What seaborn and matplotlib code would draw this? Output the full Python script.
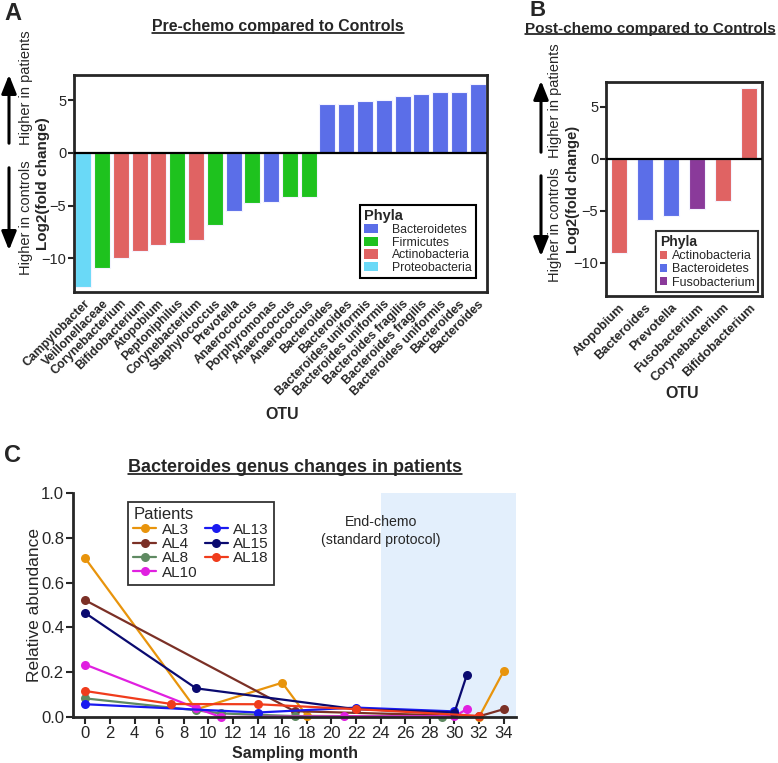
import pandas as pd
import matplotlib
matplotlib.use('Agg')
import matplotlib.pyplot as plt
from matplotlib.lines import Line2D
from matplotlib.patches import Patch, FancyArrowPatch
import seaborn as sns

sns.set_style('ticks')
plt.rcParams['font.family'] = ['Liberation Sans', 'DejaVu Sans']

# ---- data ----
pre_otu = ['Campylobacter', 'Veillonellaceae', 'Corynebacterium', 'Bifidobacterium',
           'Atopobium', 'Peptoniphilus', 'Corynebacterium', 'Staphylococcus',
           'Prevotella', 'Anaerococcus', 'Porphyromonas', 'Anaerococcus', 'Anaerococcus',
           'Bacteroides', 'Bacteroides', 'Bacteroides uniformis', 'Bacteroides uniformis',
           'Bacteroides fragilis', 'Bacteroides fragilis', 'Bacteroides uniformis',
           'Bacteroides', 'Bacteroides']
pre_lfc = [-12.7, -10.9, -10.0, -9.27, -8.7, -8.54, -8.22, -6.86, -5.52, -4.79,
           -4.70, -4.22, -4.16, 4.65, 4.68, 4.97, 5.03, 5.41, 5.63, 5.76, 5.82, 6.52]
pre_phyla = ['Proteobacteria', 'Firmicutes', 'Actinobacteria', 'Actinobacteria',
             'Actinobacteria', 'Firmicutes', 'Actinobacteria', 'Firmicutes',
             'Bacteroidetes', 'Firmicutes', 'Bacteroidetes', 'Firmicutes', 'Firmicutes'] + ['Bacteroidetes'] * 9

post_otu = ['Atopobium', 'Bacteroides', 'Prevotella', 'Fusobacterium',
            'Corynebacterium', 'Bifidobacterium']
post_lfc = [-9.1, -5.9, -5.5, -4.85, -4.05, 6.78]
post_phyla = ['Actinobacteria', 'Bacteroidetes', 'Bacteroidetes', 'Fusobacterium',
              'Actinobacteria', 'Actinobacteria']

patients = ['AL3', 'AL4', 'AL8', 'AL10', 'AL13', 'AL15', 'AL18']
months = {
    'AL3': [0, 9, 16, 18, 32, 34],
    'AL4': [0, 17, 32, 34],
    'AL8': [0, 9, 11, 17, 29],
    'AL10': [0, 9, 11, 21, 30, 31],
    'AL13': [0, 14, 22, 30],
    'AL15': [0, 9, 22, 30, 31],
    'AL18': [0, 7, 14, 22, 32],
}
abund = {
    'AL3': [0.708, 0.034, 0.153, 0.005, 0.0, 0.205],
    'AL4': [0.521, 0.026, 0.003, 0.035],
    'AL8': [0.083, 0.03, 0.016, 0.004, 0.002],
    'AL10': [0.234, 0.04, 0.0, 0.003, 0.003, 0.035],
    'AL13': [0.057, 0.02, 0.042, 0.025],
    'AL15': [0.464, 0.128, 0.035, 0.02, 0.187],
    'AL18': [0.116, 0.058, 0.057, 0.035, 0.005],
}

phyla_colors = {'Bacteroidetes': '#5b6ee8', 'Firmicutes': '#1ec21e',
                'Actinobacteria': '#e06363', 'Proteobacteria': '#6ad9f7',
                'Fusobacterium': '#8a3a9a'}
patient_colors = {'AL3': '#e8940c', 'AL4': '#7b3026', 'AL8': '#5f8a62', 'AL10': '#e020e0',
                  'AL13': '#1a1af0', 'AL15': '#0a0a70', 'AL18': '#f03c1c'}

W, H = 778, 763
fig = plt.figure(figsize=(W / 100, H / 100), dpi=100)


def fx(px):
    return px / W


def fy(py):
    return 1 - py / H


def arrow(x, y0, y1):
    fig.add_artist(FancyArrowPatch((fx(x), fy(y0)), (fx(x), fy(y1)), transform=fig.transFigure,
                                   arrowstyle='-|>,head_length=0.8,head_width=0.32',
                                   mutation_scale=14, lw=2.2, color='black'))


def bar_panel(ax, names, vals, phyla, order, width, xrot_size):
    n = len(names)
    sns.barplot(x=list(range(n)), y=vals, hue=phyla, hue_order=order,
                palette=phyla_colors, dodge=False, width=width, saturation=1,
                edgecolor='#f4f4ff', linewidth=0.8, legend=False, ax=ax)
    ax.axhline(0, color='black', lw=1.6, zorder=5)
    ax.set_xlim(-0.5, n - 0.5)
    ax.set_ylim(-13.2, 7.4)
    ax.set_yticks([-10, -5, 0, 5])
    ax.set_xticks(range(n))
    ax.set_xticklabels(names, rotation=45, ha='right', va='top', rotation_mode='anchor',
                       fontweight='bold', fontsize=xrot_size)
    ax.tick_params(axis='x', length=0, pad=4)
    ax.tick_params(axis='y', labelsize=10.5, width=1.5, length=4, pad=1.5)
    for s in ax.spines.values():
        s.set_linewidth(2)
        s.set_visible(True)
    ax.set_ylabel('Log2(fold change)', fontweight='bold', fontsize=11)
    ax.set_xlabel('OTU', fontweight='bold', fontsize=11.5)
    ax.xaxis.label.set_va('center')
    ax.yaxis.label.set_va('center')


# ---- Panel A ----
axA = fig.add_axes([fx(74), fy(292), fx(487 - 74), (292 - 75) / H])
bar_panel(axA, pre_otu, pre_lfc, pre_phyla,
          ['Bacteroidetes', 'Firmicutes', 'Actinobacteria', 'Proteobacteria'], 0.85, 8.8)
axA.yaxis.set_label_coords(-0.074, 0.5)
axA.xaxis.set_label_coords(0.504, -0.565)
hA = [Patch(facecolor=phyla_colors[p], edgecolor='none') for p in
      ['Bacteroidetes', 'Firmicutes', 'Actinobacteria', 'Proteobacteria']]
legA = axA.legend(hA, ['Bacteroidetes', 'Firmicutes', 'Actinobacteria', 'Proteobacteria'],
                  title='Phyla', loc='upper left', bbox_to_anchor=(fx(360), fy(205)),
                  bbox_transform=fig.transFigure, borderaxespad=0, fontsize=8.8,
                  handlelength=1.1, handleheight=0.8, handletextpad=1.2,
                  labelspacing=0.05, fancybox=False, edgecolor='black', framealpha=1,
                  alignment='left', borderpad=0.35)
legA.get_title().set_fontweight('bold')
legA.get_title().set_fontsize(10.5)
legA.get_frame().set_linewidth(1.5)

# ---- Panel B ----
axB = fig.add_axes([fx(606), fy(296), fx(762 - 606), (296 - 82) / H])
bar_panel(axB, post_otu, post_lfc, post_phyla,
          ['Actinobacteria', 'Bacteroidetes', 'Fusobacterium'], 0.62, 9.2)
axB.yaxis.label.set_fontsize(10.5)
axB.yaxis.set_label_coords(-0.21, 0.5)
axB.xaxis.set_label_coords(0.487, -0.455)
hB = [Patch(facecolor=phyla_colors[p], edgecolor='none') for p in
      ['Actinobacteria', 'Bacteroidetes', 'Fusobacterium']]
legB = axB.legend(hB, ['Actinobacteria', 'Bacteroidetes', 'Fusobacterium'],
                  title='Phyla', loc='upper left', bbox_to_anchor=(fx(656), fy(231)),
                  bbox_transform=fig.transFigure, borderaxespad=0, fontsize=9,
                  handlelength=0.6, handleheight=0.6, handletextpad=0.35,
                  labelspacing=0.1, fancybox=False, edgecolor='#333333', framealpha=1,
                  alignment='left', borderpad=0.3)
legB.get_title().set_fontweight('bold')
legB.get_title().set_fontsize(10)
legB.get_frame().set_linewidth(1.5)

# ---- Panel C ----
axC = fig.add_axes([fx(73), fy(717), fx(516 - 73), (717 - 493) / H])
axC.axvspan(24, 35, color='#e3effc', zorder=0, lw=0)
rows = []
for p in patients:
    for m, a in zip(months[p], abund[p]):
        rows.append({'patient': p, 'month': m, 'abund': a})
df = pd.DataFrame(rows)
sns.lineplot(data=df, x='month', y='abund', hue='patient', hue_order=patients,
             palette=patient_colors, marker='o', markersize=6.5, markeredgewidth=0,
             linewidth=1.6, estimator=None, legend=False, clip_on=False, ax=axC)
axC.set_xlim(-1, 35)
axC.set_ylim(0, 1)
axC.set_xticks(range(0, 35, 2))
axC.set_yticks([0, 0.2, 0.4, 0.6, 0.8, 1.0])
axC.set_yticklabels(['0.0', '0.2', '0.4', '0.6', '0.8', '1.0'])
axC.tick_params(labelsize=12, width=1.5, length=5, pad=1.5)
sns.despine(ax=axC)
for s in ['left', 'bottom']:
    axC.spines[s].set_linewidth(2)
axC.set_xlabel('Sampling month', fontweight='bold', fontsize=11.5)
axC.set_ylabel('Relative abundance', fontsize=12.5)
axC.xaxis.label.set_va('center')
axC.yaxis.label.set_va('center')
axC.xaxis.set_label_coords(0.502, -0.161)
axC.yaxis.set_label_coords(-0.086, 0.5)
axC.text(24, 0.83, 'End-chemo\n(standard protocol)', ha='center', va='center',
         fontsize=10.2, linespacing=1.3)
hC = [Line2D([], [], color=patient_colors[p], marker='o', markersize=6.5,
             markeredgewidth=0, lw=1.6) for p in patients]
legC = axC.legend(hC, patients, title='Patients', ncol=2, loc='upper left',
                  bbox_to_anchor=(fx(128), fy(502)), bbox_transform=fig.transFigure,
                  borderaxespad=0, fontsize=11, title_fontsize=12, handlelength=1.5,
                  handletextpad=0.35, columnspacing=0.5, labelspacing=0.02,
                  fancybox=False, edgecolor='#333333', framealpha=1, alignment='left',
                  borderpad=0.35)
legC.get_frame().set_linewidth(1.3)

# ---- side annotations ----
fig.text(fx(26), fy(88), 'Higher in patients', rotation=90, ha='center', va='center', fontsize=10.5)
fig.text(fx(26), fy(218), 'Higher in controls', rotation=90, ha='center', va='center', fontsize=10.5)
arrow(9, 146, 72)
arrow(9, 165, 253)
fig.text(fx(555), fy(101), 'Higher in patients', rotation=90, ha='center', va='center', fontsize=10.5)
fig.text(fx(555), fy(225), 'Higher in controls', rotation=90, ha='center', va='center', fontsize=10.5)
arrow(541, 155, 78)
arrow(541, 173, 259)

# ---- titles and panel letters ----
titles = [fig.text(fx(278), fy(27), 'Pre-chemo compared to Controls', ha='center', va='center',
                   fontsize=11.4, fontweight='bold'),
          fig.text(fx(650), fy(29), 'Post-chemo compared to Controls', ha='center', va='center',
                   fontsize=11, fontweight='bold'),
          fig.text(fx(295), fy(467), 'Bacteroides genus changes in patients', ha='center',
                   va='center', fontsize=13, fontweight='bold')]
for x, y, s, fs in [(13, 14, 'A', 17), (538, 11, 'B', 16), (13, 455, 'C', 17)]:
    fig.text(fx(x), fy(y), s, ha='center', va='center', fontsize=fs, fontweight='bold')

fig.canvas.draw()
r = fig.canvas.get_renderer()
for t in titles:
    bb = t.get_window_extent(r)
    fig.add_artist(Line2D([bb.x0 / W, bb.x1 / W], [(bb.y0 + 2) / H] * 2,
                          transform=fig.transFigure, color='black', lw=1.1))

fig.savefig('out.png', dpi=100)
